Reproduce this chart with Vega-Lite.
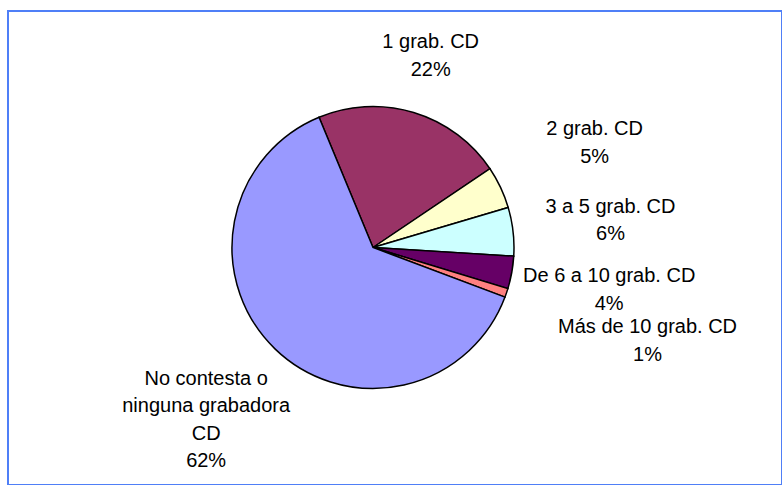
{
  "$schema": "https://vega.github.io/schema/vega-lite/v6.json",
  "width": 774,
  "height": 474,
  "autosize": {"type": "none"},
  "padding": {"left": 8, "top": 11, "right": 0, "bottom": 0},
  "background": "white",
  "config": {"view": {"stroke": null}},
  "data": {
    "values": [
      {"i": 1, "cat": "1 grab. CD", "pct": 21.6, "label": ["1 grab. CD", "22%"]},
      {"i": 2, "cat": "2 grab. CD", "pct": 4.8, "label": ["2 grab. CD", "5%"]},
      {"i": 3, "cat": "3 a 5 grab. CD", "pct": 5.5, "label": ["3 a 5 grab. CD", "6%"]},
      {"i": 4, "cat": "De 6 a 10 grab. CD", "pct": 3.7, "label": ["De 6 a 10 grab. CD", "4%"]},
      {"i": 5, "cat": "Más de 10 grab. CD", "pct": 1.0, "label": ["Más de 10 grab. CD", "1%"]},
      {"i": 6, "cat": "No contesta o ninguna grabadora CD", "pct": 62.4, "label": ["No contesta o", "ninguna grabadora", "CD", "62%"]}
    ]
  },
  "layer": [
    {
      "data": {"values": [{"frame": 1}]},
      "mark": {"type": "rect", "fill": null, "stroke": "#4f7ff7", "strokeWidth": 2},
      "encoding": {}
    },
    {
      "mark": {"type": "arc", "outerRadius": 141, "stroke": "black", "strokeWidth": 1.5, "x": 365, "y": 236.5},
      "encoding": {
        "theta": {"field": "pct", "type": "quantitative", "stack": true, "scale": {"range": [-0.3927, 5.8905]}},
        "order": {"field": "i", "type": "quantitative"},
        "color": {
          "field": "cat", "type": "nominal", "legend": null,
          "scale": {
            "domain": ["1 grab. CD", "2 grab. CD", "3 a 5 grab. CD", "De 6 a 10 grab. CD", "Más de 10 grab. CD", "No contesta o ninguna grabadora CD"],
            "range": ["#993366", "#FFFFCC", "#CCFFFF", "#660066", "#FF8080", "#9999FF"]
          }
        }
      }
    },
    {
      "mark": {"type": "text", "font": "Liberation Sans", "fontSize": 20, "lineHeight": 27.5, "align": "center", "baseline": "middle", "x": 365, "y": 236.5, "fill": "black",
               "dy": {"expr": "-13.75 * (length(datum.label) - 1)"}},
      "encoding": {
        "theta": {"field": "pct", "type": "quantitative", "stack": true},
        "order": {"field": "i", "type": "quantitative"},
        "text": {"field": "label"},
        "radius": {
          "field": "pct", "type": "quantitative",
          "scale": {"type": "linear", "zero": false, "nice": false, "domain": [1.0, 3.7, 4.8, 5.5, 21.6, 62.4], "range": [290, 240, 245, 239, 200, 240]}
        }
      }
    }
  ]
}
